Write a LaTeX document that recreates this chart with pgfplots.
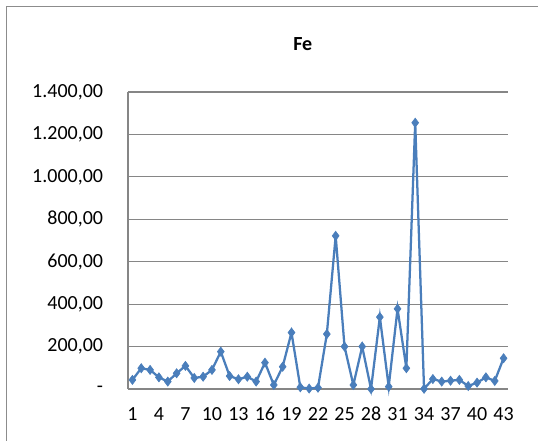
\documentclass[border=0pt]{standalone}
\usepackage{fontspec}
\setmainfont{Carlito}
\usepackage{pgfplots}
\pgfplotsset{compat=1.18}
\definecolor{serblue}{RGB}{74,126,187}
\definecolor{gridgray}{RGB}{134,134,134}
\definecolor{bordergray}{RGB}{140,140,140}
\begin{document}
\begin{tikzpicture}
\useasboundingbox (-96pt,-39pt) rectangle (307.5pt,291.75pt);
\draw[bordergray, line width=1.2pt] (-91.1pt,-60pt) -- (-91.1pt,286.9pt) -- (330pt,286.9pt);
\begin{axis}[
  at={(0pt,0pt)}, anchor=south west,
  scale only axis, width=285pt, height=222.75pt,
  xmin=0.5, xmax=43.5, ymin=0, ymax=1400,
  xtick={1,4,...,43},
  xticklabels={1,4,7,10,13,16,19,22,25,28,31,34,37,40,43},
  ytick={0,200,...,1400},
  yticklabels={{-},{200,00},{400,00},{600,00},{800,00},{1.000,00},{1.200,00},{1.400,00}},
  major tick length=0pt,
  ymajorgrids,
  grid style={gridgray, line width=0.8pt},
  axis line style={gridgray, line width=0.8pt},
  axis x line*=bottom, axis y line*=left,
  x axis line style={-}, y axis line style={-},
  tick label style={font=\fontsize{15}{17}\selectfont, inner sep=0pt},
  yticklabel style={anchor=east, xshift=-18.5pt},
  xticklabel style={anchor=north, yshift=-13.5pt},
  title={Fe},
  title style={font=\fontsize{15}{17}\selectfont\bfseries, at={(axis description cs:0.46,1.135)}, anchor=center, inner sep=0pt},
  clip=false,
]
\addplot[serblue, line width=1.7pt, mark=diamond*, mark size=3.4pt, mark options={fill=serblue, draw=serblue, line width=0.5pt}]
coordinates {
(1,43)(2,98)(3,90)(4,55)(5,35)(6,74)(7,109)(8,52)(9,58)(10,90)
(11,176)(12,61)(13,46)(14,58)(15,35)(16,124)(17,19)(18,105)(19,266)(20,8)
(21,2)(22,6)(23,259)(24,722)(25,200)(26,19)(27,200)(28,0)(29,339)(30,11)
(31,378)(32,98)(33,1255)(34,1)(35,47)(36,35)(37,39)(38,43)(39,14)(40,30)
(41,55)(42,38)(43,145)
};
\end{axis}
\end{tikzpicture}
\end{document}
